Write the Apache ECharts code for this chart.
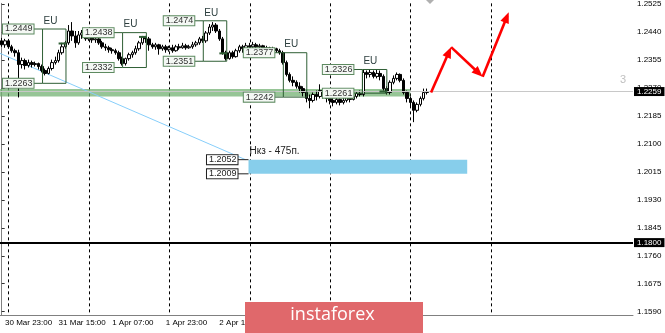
<!DOCTYPE html>
<html><head><meta charset="utf-8">
<script src="https://cdn.jsdelivr.net/npm/echarts@6/dist/echarts.min.js"></script>
<style>html,body{margin:0;padding:0;background:#fff}#c{width:665px;height:333px}</style>
</head><body><div id="c"></div><script>
// ---------- DATA ----------
// hourly bars starting 30 Mar 22:00
const startDay = 30, startHour = 22, hourCount = 189;
// candles: [open, close, low, high]
const candles = [
[1.2413,1.2401,1.2395,1.2422],[1.2401,1.2413,1.2392,1.2419],[1.2413,1.2395,1.2389,1.2419],[1.2395,1.2383,1.2377,1.2401],
[1.2383,1.2377,1.2365,1.2389],[1.2377,1.2341,1.2241,1.2386],[1.2341,1.2353,1.2329,1.2362],[1.2353,1.2338,1.2326,1.2359],
[1.2338,1.2347,1.2332,1.2356],[1.2347,1.2341,1.2332,1.2353],[1.2341,1.2344,1.2335,1.2350],[1.2344,1.2335,1.2326,1.2347],
[1.2335,1.2323,1.2317,1.2341],[1.2323,1.2314,1.2308,1.2329],[1.2314,1.2329,1.2311,1.2335],[1.2329,1.2347,1.2323,1.2356],
[1.2347,1.2353,1.2341,1.2365],[1.2353,1.2377,1.2347,1.2386],[1.2377,1.2395,1.2371,1.2407],[1.2395,1.2407,1.2389,1.2413],
[1.2407,1.2443,1.2401,1.2461],[1.2443,1.2428,1.2413,1.2470],[1.2428,1.2407,1.2392,1.2443],[1.2407,1.2431,1.2401,1.2443],
[1.2431,1.2437,1.2419,1.2446],[1.2437,1.2419,1.2413,1.2440],[1.2419,1.2428,1.2413,1.2434],[1.2428,1.2416,1.2407,1.2434],
[1.2416,1.2419,1.2407,1.2428],[1.2419,1.2407,1.2401,1.2425],[1.2407,1.2395,1.2389,1.2413],[1.2395,1.2392,1.2383,1.2404],
[1.2392,1.2386,1.2377,1.2398],[1.2386,1.2383,1.2374,1.2392],[1.2383,1.2377,1.2371,1.2389],[1.2377,1.2359,1.2353,1.2383],
[1.2359,1.2344,1.2338,1.2365],[1.2344,1.2359,1.2338,1.2362],[1.2359,1.2371,1.2353,1.2377],[1.2371,1.2377,1.2362,1.2383],
[1.2377,1.2389,1.2371,1.2398],[1.2389,1.2407,1.2383,1.2413],[1.2407,1.2425,1.2401,1.2428],[1.2425,1.2419,1.2407,1.2428],
[1.2419,1.2401,1.2383,1.2425],[1.2401,1.2395,1.2389,1.2407],[1.2395,1.2401,1.2386,1.2407],[1.2401,1.2389,1.2371,1.2404],
[1.2389,1.2395,1.2383,1.2401],[1.2395,1.2386,1.2377,1.2401],[1.2386,1.2392,1.2380,1.2398],[1.2392,1.2383,1.2377,1.2401],
[1.2383,1.2395,1.2380,1.2401],[1.2395,1.2392,1.2386,1.2404],[1.2392,1.2398,1.2389,1.2407],[1.2398,1.2392,1.2386,1.2404],
[1.2392,1.2395,1.2389,1.2401],[1.2395,1.2401,1.2389,1.2410],[1.2401,1.2407,1.2395,1.2413],[1.2407,1.2419,1.2401,1.2425],
[1.2419,1.2413,1.2407,1.2428],[1.2413,1.2437,1.2407,1.2443],[1.2437,1.2455,1.2431,1.2464],[1.2455,1.2461,1.2443,1.2470],
[1.2461,1.2443,1.2437,1.2467],[1.2443,1.2419,1.2413,1.2449],[1.2419,1.2377,1.2371,1.2425],[1.2377,1.2359,1.2353,1.2383],
[1.2359,1.2377,1.2356,1.2383],[1.2377,1.2365,1.2359,1.2383],[1.2365,1.2383,1.2362,1.2389],[1.2383,1.2395,1.2377,1.2401],
[1.2395,1.2389,1.2377,1.2401],[1.2389,1.2398,1.2383,1.2407],[1.2398,1.2395,1.2389,1.2407],[1.2395,1.2401,1.2389,1.2410],
[1.2401,1.2395,1.2386,1.2407],[1.2395,1.2398,1.2389,1.2404],[1.2398,1.2389,1.2383,1.2401],[1.2389,1.2392,1.2383,1.2398],
[1.2392,1.2386,1.2377,1.2395],[1.2386,1.2389,1.2380,1.2395],[1.2389,1.2383,1.2377,1.2392],[1.2383,1.2377,1.2371,1.2389],
[1.2377,1.2347,1.2341,1.2383],[1.2347,1.2311,1.2305,1.2353],[1.2311,1.2293,1.2287,1.2317],[1.2293,1.2287,1.2275,1.2305],
[1.2287,1.2275,1.2268,1.2293],[1.2275,1.2268,1.2256,1.2287],[1.2268,1.2256,1.2244,1.2275],[1.2256,1.2238,1.2226,1.2262],
[1.2238,1.2232,1.2208,1.2250],[1.2232,1.2250,1.2226,1.2256],[1.2250,1.2244,1.2232,1.2262],[1.2244,1.2262,1.2238,1.2281],
[1.2262,1.2250,1.2238,1.2268],[1.2250,1.2238,1.2226,1.2256],[1.2238,1.2232,1.2220,1.2250],[1.2232,1.2226,1.2214,1.2241],
[1.2226,1.2235,1.2220,1.2241],[1.2235,1.2226,1.2217,1.2238],[1.2226,1.2232,1.2220,1.2241],[1.2232,1.2241,1.2226,1.2247],
[1.2241,1.2235,1.2226,1.2250],[1.2235,1.2244,1.2232,1.2250],[1.2244,1.2253,1.2238,1.2259],[1.2253,1.2250,1.2244,1.2262],
[1.2250,1.2317,1.2244,1.2326],[1.2317,1.2311,1.2299,1.2323],[1.2311,1.2317,1.2302,1.2326],[1.2317,1.2305,1.2299,1.2323],
[1.2305,1.2314,1.2299,1.2326],[1.2314,1.2305,1.2293,1.2323],[1.2305,1.2268,1.2262,1.2311],[1.2268,1.2256,1.2250,1.2275],
[1.2256,1.2287,1.2250,1.2293],[1.2287,1.2299,1.2281,1.2308],[1.2299,1.2311,1.2293,1.2317],[1.2311,1.2293,1.2287,1.2314],
[1.2293,1.2256,1.2250,1.2299],[1.2256,1.2238,1.2226,1.2262],[1.2238,1.2226,1.2214,1.2244],[1.2226,1.2202,1.2166,1.2232],
[1.2202,1.2220,1.2196,1.2226],[1.2220,1.2238,1.2214,1.2244],[1.2238,1.2256,1.2232,1.2268],[1.2256,1.2259,1.2250,1.2268]
];
const priceTicks = [1.1590,1.1675,1.1760,1.1845,1.1930,1.2015,1.2100,1.2185,1.2270,1.2355,1.2440,1.2525];
const daySeparators = [2,26,50,74,98,122,146];           // bar index of each midnight
// EU session boxes: [startBar, endBar, high, low, closeOrNull]
const euBoxes = [
  [12.2,19.2,1.2449,1.2284,1.2405],
  [36.1,43.2,1.2438,1.2332,1.2425],
  [60.2,67.2,1.2474,1.2351,1.2375],
  [84.1,91.1,1.2377,1.2242,null],
  [107.7,115.0,1.2326,1.2254,1.2259]
];
const euHighText = ['1.2449','1.2438','1.2474','1.2377','1.2326'];
const euLowText  = ['1.2263','1.2332','1.2351','1.2242','1.2261'];
const supportBand = [[-0.5,122.0,1.2267,1.2244]];
const targetZone = [[73.7,139.0,1.2052,1.2009]];
const targetText = 'Нкз - 475п.';
const trendLine = [[-0.5,1.2375],[72.8,1.2052]];
const forecastArrows = [
  [128.2,1.2256,134.2,1.2394],
  [134.2,1.2394,143.6,1.2304],
  [143.6,1.2304,151.4,1.2500]
];
const bidPrice = 1.2259, levelPrice = 1.1800;
const yMin = 1.1580, yMax = 1.2527;

// ---------- categories ----------
const mon = ['Mar','Apr'];
const cats = [];
for (let i = 0; i < hourCount; i++) {
  const h = startHour + i;
  let d = startDay + Math.floor(h / 24), m = 0;
  if (d > 31) { d -= 31; m = 1; }
  const hh = h % 24;
  cats.push(d + ' ' + mon[m] + ' ' + (hh < 10 ? '0' : '') + hh + ':00');
}
const lastBar = candles.length - 1;
const showLab = (i) => (i - 1) % 16 === 0 && i <= lastBar;

const FONT = '"Liberation Sans", Arial, sans-serif';
const chart = echarts.init(document.getElementById('c'), null, {renderer:'canvas'});

function boxRender(params, api) {
  const i = params.dataIndex;
  const b = euBoxes[i];
  const p0 = api.coord([b[0], b[2]]), p1 = api.coord([b[1], b[3]]);
  const green = '#2f5f35';
  const ch = [
    {type:'rect', shape:{x:p0[0], y:p0[1], width:p1[0]-p0[0], height:p1[1]-p0[1]},
     style:{fill:'none', stroke:green, lineWidth:1}},
    {type:'text', style:{x:p0[0]+1, y:p0[1]-3, text:'EU', align:'left', verticalAlign:'bottom',
      font:'10px ' + FONT, fill:'#2b3d3d'}}
  ];
  [[p0[1], euHighText[i]], [p1[1], euLowText[i]]].forEach(function (q) {
    ch.push({type:'line', shape:{x1:p0[0]-9, y1:q[0], x2:p0[0], y2:q[0]}, style:{stroke:green, lineWidth:1}});
    ch.push({type:'text', style:{x:p0[0]-9, y:q[0], text:q[1], align:'right', verticalAlign:'middle',
      font:'9px ' + FONT, fill:'#333', backgroundColor:'#f4f8f4', borderColor:'#5d8a60', borderWidth:1,
      padding:[0,1,0,2]}});
  });
  if (b[4] != null) {
    const c0 = api.coord([b[1]-2.2, b[4]]), c1 = api.coord([b[1], b[4]]);
    ch.push({type:'line', shape:{x1:c0[0], y1:c0[1], x2:c1[0], y2:c1[1]}, style:{stroke:green, lineWidth:2}});
  }
  return {type:'group', children:ch};
}

function zoneRender(params, api) {
  const z = targetZone[params.dataIndex];
  const p0 = api.coord([z[0], z[2]]), p1 = api.coord([z[1], z[3]]);
  const ch = [
    {type:'rect', shape:{x:p0[0], y:p0[1], width:p1[0]-p0[0], height:p1[1]-p0[1]}, style:{fill:'#87ceeb'}},
    {type:'text', style:{x:p0[0]+1, y:p0[1]-3, text:targetText, align:'left', verticalAlign:'bottom',
      font:'10px ' + FONT, fill:'#222'}}
  ];
  [[p0[1], z[2]], [p1[1], z[3]]].forEach(function (q) {
    ch.push({type:'line', shape:{x1:p0[0]-11, y1:q[0], x2:p0[0], y2:q[0]}, style:{stroke:'#222', lineWidth:1}});
    ch.push({type:'text', style:{x:p0[0]-11, y:q[0], text:q[1].toFixed(4), align:'right', verticalAlign:'middle',
      font:'9px ' + FONT, fill:'#222', backgroundColor:'#fff', borderColor:'#222', borderWidth:1,
      padding:[0,1,0,2]}});
  });
  return {type:'group', children:ch};
}

function bandRender(params, api) {
  const z = supportBand[params.dataIndex];
  const p0 = api.coord([z[0], z[2]]), p1 = api.coord([z[1], z[3]]);
  return {type:'rect', shape:{x:p0[0], y:p0[1], width:p1[0]-p0[0], height:p1[1]-p0[1]},
    style:{fill:'rgba(110,175,110,0.72)'}};
}

function sepRender(params, api) {
  const cs = params.coordSys;
  const x = Math.round(api.coord([api.value(0), yMax])[0]) + 0.5;
  return {type:'line', shape:{x1:x, y1:cs.y, x2:x, y2:cs.y+cs.height},
    style:{stroke:'#000', lineWidth:1, lineDash:[3,3]}};
}

function arrowRender(params, api) {
  const a = api.coord([api.value(0), api.value(1)]), b = api.coord([api.value(2), api.value(3)]);
  const ang = Math.atan2(b[1]-a[1], b[0]-a[0]);
  const L = 11, W = 4.5;
  const bx = b[0] - L*Math.cos(ang), by = b[1] - L*Math.sin(ang);
  const px = -Math.sin(ang), py = Math.cos(ang);
  return {type:'group', children:[
    {type:'line', shape:{x1:a[0], y1:a[1], x2:b[0]-4*Math.cos(ang), y2:b[1]-4*Math.sin(ang)}, style:{stroke:'#ff0000', lineWidth:2.6}},
    {type:'polygon', shape:{points:[[b[0],b[1]],[bx+px*W,by+py*W],[bx-px*W,by-py*W]]}, style:{fill:'#ff0000'}}
  ]};
}

const badge = {show:true, position:'end', distance:1, color:'#fff', backgroundColor:'#000',
  padding:[1,3,0,3], fontSize:8, fontFamily:FONT, formatter:(p) => Number(p.value).toFixed(4)};

chart.setOption({
  animation:false,
  backgroundColor:'#fff',
  grid:{left:-1, right:32, top:0, bottom:18},
  xAxis:[
    {type:'category', data:cats, boundaryGap:true,
     axisLine:{lineStyle:{color:'#808080', width:1}},
     axisTick:{alignWithLabel:true, interval:(i)=>showLab(i), length:3, lineStyle:{color:'#333'}},
     axisLabel:{interval:(i)=>showLab(i), align:'left', fontSize:8, fontFamily:FONT, color:'#000', margin:4},
     splitLine:{show:false}},
    {type:'value', min:-0.5, max:hourCount-0.5, show:false}
  ],
  yAxis:{type:'value', position:'right', min:yMin, max:yMax, scale:true,
    axisLine:{show:true, lineStyle:{color:'#808080'}},
    axisTick:{show:true, length:3, customValues:priceTicks, lineStyle:{color:'#333'}},
    axisLabel:{customValues:priceTicks, fontSize:8, fontFamily:FONT, color:'#000', margin:4,
      formatter:(v)=>v.toFixed(4)},
    splitLine:{show:false}},
  graphic:[
    {type:'text', left:620, top:74, z:50, style:{text:'3', font:'11px ' + FONT, fill:'#c0c0c0'}},
    {type:'polygon', z:50, shape:{points:[[426,0],[434,0],[430,4]]}, style:{fill:'#b0b0b0'}},
    {type:'rect', left:245, top:302, z:100, shape:{x:0, y:0, width:178, height:31}, style:{fill:'#e0686b'}},
    {type:'text', left:'center', top:306, z:101, x:0,
      style:{text:'instaforex', font:'18px "Open Sans", sans-serif', fill:'#fff'}, position:[0,0]}
  ],
  series:[
    {type:'custom', name:'sep', xAxisIndex:1, data:daySeparators.map(v=>[v]), renderItem:sepRender, z:1, silent:true},
    {type:'custom', name:'band', xAxisIndex:1, data:supportBand, encode:{x:[0,1], y:[2,3]}, renderItem:bandRender, z:2, silent:true},
    {type:'line', name:'trend', xAxisIndex:1, data:trendLine, symbol:'none', lineStyle:{color:'#87cefa', width:1}, z:3, silent:true},
    {type:'candlestick', name:'price', xAxisIndex:0, data:candles, barWidth:3, z:4,
     itemStyle:{color:'#fff', color0:'#000', borderColor:'#000', borderColor0:'#000', borderWidth:1},
     markLine:{symbol:'none', silent:true, animation:false, precision:4, data:[
       {yAxis:bidPrice, lineStyle:{color:'#c8c8c8', width:1, type:'solid'}, label:badge},
       {yAxis:levelPrice, lineStyle:{color:'#000', width:2, type:'solid'}, label:badge}
     ]}},
    {type:'custom', name:'eu', xAxisIndex:1, data:euBoxes.map(b=>[b[0],b[1],b[2],b[3]]), encode:{x:[0,1], y:[2,3]}, renderItem:boxRender, z:5, silent:true},
    {type:'custom', name:'zone', xAxisIndex:1, data:targetZone, encode:{x:[0,1], y:[2,3]}, renderItem:zoneRender, z:5, silent:true},
    {type:'custom', name:'arrows', xAxisIndex:1, data:forecastArrows, encode:{x:[0,2], y:[1,3]}, renderItem:arrowRender, z:6, silent:true}
  ]
});
</script></body></html>
